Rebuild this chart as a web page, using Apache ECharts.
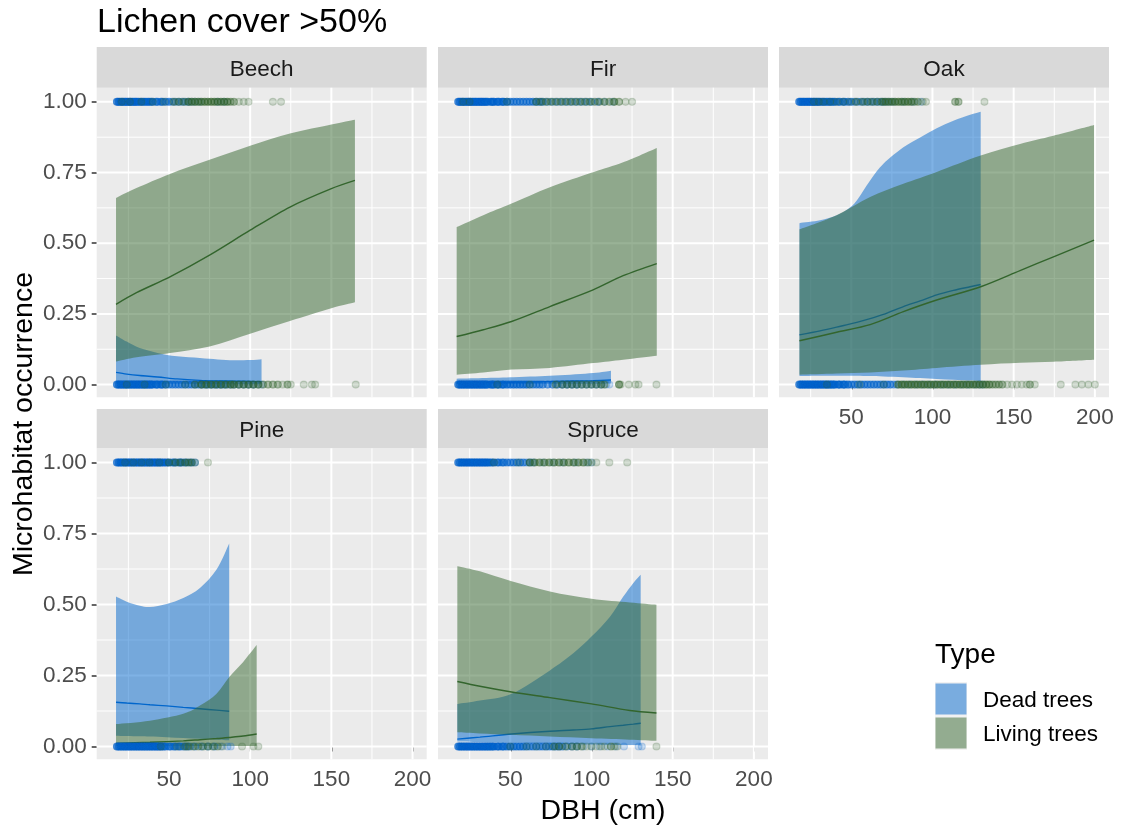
<!DOCTYPE html>
<html>
<head>
<meta charset="utf-8">
<script src="https://cdn.jsdelivr.net/npm/echarts@6/dist/echarts.min.js"></script>
<style>
  html, body { margin: 0; padding: 0; background: #ffffff; }
  #chart { width: 1121px; height: 832px; }
</style>
</head>
<body>
<div id="chart"></div>
<script>
// ---- facets, groups and axis ticks ----
const species = ['Beech', 'Fir', 'Oak', 'Pine', 'Spruce'];
const typeNames = ['Dead trees', 'Living trees'];
const xTicks = [50, 100, 150, 200];
const xMinor = [25, 75, 125, 175];
const yTicks = [0, 0.25, 0.5, 0.75, 1];
const yMinor = [0.125, 0.375, 0.625, 0.875];

// ---- fitted probability with confidence band (DBH, lower, fit, upper) ----
const beechDeadX   = [17.4, 24, 32, 43, 55, 69, 80, 90, 100, 107];
const beechDeadLo  = [0.004, 0.004, 0.004, 0.003, 0.003, 0.002, 0.002, 0.001, 0.001, 0.001];
const beechDeadFit = [0.043, 0.037, 0.032, 0.027, 0.020, 0.015, 0.013, 0.012, 0.011, 0.010];
const beechDeadHi  = [0.174, 0.152, 0.129, 0.112, 0.100, 0.094, 0.089, 0.086, 0.087, 0.090];

const beechLivingX   = [17.4, 30, 50.6, 75, 100, 124.5, 150, 164.5];
const beechLivingLo  = [0.082, 0.097, 0.112, 0.135, 0.180, 0.225, 0.270, 0.291];
const beechLivingFit = [0.284, 0.325, 0.381, 0.458, 0.546, 0.628, 0.693, 0.722];
const beechLivingHi  = [0.660, 0.695, 0.745, 0.795, 0.845, 0.888, 0.920, 0.937];

const firDeadX   = [17, 52, 77.5, 101, 112];
const firDeadLo  = [0.001, 0.002, 0.003, 0.003, 0.004];
const firDeadFit = [0.006, 0.008, 0.011, 0.014, 0.016];
const firDeadHi  = [0.021, 0.026, 0.032, 0.041, 0.049];

const firLivingX   = [17, 33.4, 50.8, 74.4, 101, 119.5, 140.2];
const firLivingLo  = [0.035, 0.043, 0.053, 0.059, 0.076, 0.088, 0.102];
const firLivingFit = [0.170, 0.194, 0.223, 0.276, 0.335, 0.385, 0.428];
const firLivingHi  = [0.557, 0.599, 0.640, 0.698, 0.751, 0.786, 0.837];

const oakDeadX   = [18.1, 30.8, 41, 48.2, 53.4, 61.6, 69.8, 82.1, 92.4, 102.6, 112.9, 123.2, 129.7];
const oakDeadLo  = [0.030, 0.031, 0.031, 0.031, 0.031, 0.030, 0.029, 0.026, 0.023, 0.020, 0.017, 0.014, 0.012];
const oakDeadFit = [0.176, 0.190, 0.203, 0.213, 0.220, 0.233, 0.248, 0.276, 0.296, 0.317, 0.333, 0.346, 0.354];
const oakDeadHi  = [0.571, 0.581, 0.599, 0.622, 0.651, 0.722, 0.781, 0.839, 0.874, 0.907, 0.933, 0.954, 0.965];

const oakLivingX   = [18.1, 41, 61.6, 82.1, 102.6, 129.7, 153.9, 174.5, 199.5];
const oakLivingLo  = [0.035, 0.039, 0.043, 0.050, 0.059, 0.070, 0.077, 0.081, 0.088];
const oakLivingFit = [0.155, 0.185, 0.212, 0.258, 0.299, 0.346, 0.403, 0.452, 0.511];
const oakLivingHi  = [0.549, 0.599, 0.663, 0.710, 0.752, 0.810, 0.851, 0.880, 0.918];

const pineDeadX   = [17.4, 24, 32.1, 38.3, 48.6, 58.8, 69.1, 79.3, 87.1];
const pineDeadLo  = [0.038, 0.037, 0.036, 0.035, 0.033, 0.030, 0.027, 0.024, 0.022];
const pineDeadFit = [0.156, 0.153, 0.150, 0.147, 0.143, 0.138, 0.133, 0.128, 0.124];
const pineDeadHi  = [0.528, 0.510, 0.496, 0.491, 0.502, 0.523, 0.558, 0.623, 0.715];

const pineLivingX   = [17.4, 38.3, 58.8, 69.1, 79.3, 87.1, 95.7, 104];
const pineLivingLo  = [0.002, 0.002, 0.002, 0.002, 0.002, 0.002, 0.002, 0.002];
const pineLivingFit = [0.011, 0.015, 0.020, 0.024, 0.028, 0.032, 0.037, 0.044];
const pineLivingHi  = [0.079, 0.091, 0.115, 0.144, 0.186, 0.245, 0.298, 0.357];

const spruceDeadX   = [17.4, 31.3, 50.8, 74.4, 88.8, 100, 111.4, 119.6, 125.8, 130.3];
const spruceDeadLo  = [0.018, 0.016, 0.013, 0.010, 0.008, 0.007, 0.006, 0.005, 0.005, 0.004];
const spruceDeadFit = [0.026, 0.033, 0.044, 0.054, 0.058, 0.062, 0.070, 0.075, 0.079, 0.082];
const spruceDeadHi  = [0.150, 0.162, 0.186, 0.268, 0.328, 0.387, 0.457, 0.528, 0.576, 0.605];

const spruceLivingX   = [17.4, 31.3, 50.8, 74.4, 100, 123.6, 140];
const spruceLivingLo  = [0.050, 0.046, 0.041, 0.035, 0.029, 0.024, 0.020];
const spruceLivingFit = [0.229, 0.212, 0.192, 0.172, 0.150, 0.127, 0.118];
const spruceLivingHi  = [0.635, 0.617, 0.582, 0.546, 0.520, 0.507, 0.499];

// ---- observed trees: [DBH, number of trees] without (At0) / with (At1) the microhabitat ----
const beechDeadAt0 = [[18,4],[19,4],[20,4],[21,4],[22,4],[23,4],[24,4],[25,4],[26,4],[27,4],[28,4],[29,4],[30,4],[31,4],[32,4],[33,4],[34,4],[35,4],[36,4],[37,4],[38,4],[39,4],[40,4],[42,4],[43,4],[45,4],[46,4],[48,4],[50,3],[52,3],[54,3],[56,3],[58,3],[60,3],[62,3],[64,3],[66,3],[68,3],[70,3],[72,3],[74,3],[76,3],[78,3],[80,3],[82,3],[84,3],[86,2],[88,2],[90,2],[93,2],[96,2],[99,2],[102,2],[105,1],[107,1]];
const beechDeadAt1 = [[18,4],[19,4],[20,4],[21,4],[22,4],[23,4],[24,4],[25,4],[26,4],[27,4],[28,4],[29,4],[30,4],[31,3],[32,3],[33,3],[34,3],[35,3],[36,3],[37,3],[38,3],[39,3],[40,3],[42,3],[43,3],[45,3],[46,3],[48,3],[50,3],[52,2],[54,2],[56,2],[58,2],[60,2],[62,2],[64,1],[66,1],[69,1],[80,1],[84,1]];
const beechLivingAt0 = [[24,1],[35,1],[48,1],[60,1],[66,2],[70,3],[73,3],[76,3],[79,3],[82,3],[85,3],[88,3],[90,3],[93,3],[96,3],[99,3],[102,3],[105,3],[108,2],[111,2],[114,2],[117,2],[120,1],[123,2],[125,1],[133,1],[138,1],[140,1],[165,1]];
const beechLivingAt1 = [[21,1],[26,1],[33,1],[40,1],[47,1],[53,2],[56,2],[59,2],[62,3],[64,3],[66,3],[68,3],[70,3],[72,3],[74,3],[76,3],[78,3],[80,3],[82,3],[84,3],[86,3],[88,2],[90,2],[93,1],[96,1],[99,1],[114,1],[119,1]];

const firDeadAt0 = [[18,4],[19,4],[20,4],[21,4],[22,4],[23,4],[24,4],[25,4],[26,4],[27,4],[28,4],[29,4],[30,4],[31,4],[32,4],[33,4],[34,4],[35,4],[36,4],[38,4],[39,4],[40,4],[42,4],[43,4],[45,4],[46,4],[48,4],[50,4],[52,4],[54,4],[56,4],[58,4],[60,4],[62,3],[64,3],[66,3],[68,3],[70,3],[73,3],[76,3],[79,3],[82,3],[85,3],[88,3],[91,3],[94,2],[97,2],[100,2],[103,2],[106,2],[109,1],[111,1]];
const firDeadAt1 = [[18,4],[19,4],[20,4],[21,4],[22,4],[23,4],[24,4],[25,4],[26,4],[27,4],[28,4],[29,4],[30,4],[31,4],[32,4],[33,4],[34,4],[35,4],[36,4],[38,4],[39,4],[40,4],[42,4],[43,4],[45,4],[46,4],[48,4],[50,3],[52,3],[54,3],[56,3],[58,3],[60,3],[62,3],[64,3],[66,3],[68,3],[70,3],[73,2],[76,2],[79,2],[82,2],[85,2],[88,2],[91,2],[94,2],[97,2],[100,2],[104,2],[108,1],[113,1]];
const firLivingAt0 = [[42,1],[62,1],[78,2],[82,2],[85,2],[88,2],[91,2],[94,2],[97,2],[100,2],[103,2],[106,2],[108,2],[117,3],[118,1],[123,1],[127,1],[129,1],[140,1]];
const firLivingAt1 = [[21,1],[25,1],[48,1],[66,2],[69,2],[72,2],[75,2],[78,2],[81,2],[84,2],[87,2],[90,2],[93,2],[96,2],[99,2],[102,2],[105,2],[108,2],[111,2],[114,3],[117,2],[121,1],[125,1]];

const oakDeadAt0 = [[18,4],[19,4],[20,4],[21,4],[22,4],[23,4],[24,4],[25,4],[26,4],[27,4],[28,4],[29,4],[30,4],[31,4],[32,4],[33,4],[34,4],[35,4],[36,4],[37,4],[38,4],[39,4],[40,4],[42,4],[43,4],[45,4],[46,4],[48,4],[50,3],[52,3],[54,3],[56,3],[58,3],[60,3],[62,3],[64,3],[66,3],[68,3],[70,3],[72,3],[74,3],[76,2],[78,2],[82,1],[86,1],[90,1],[94,1],[98,1],[102,1],[106,1],[110,1],[114,1],[118,1],[122,1],[126,1],[129,1],[131,1]];
const oakDeadAt1 = [[18,4],[19,4],[20,4],[21,4],[22,4],[23,4],[24,4],[25,4],[26,4],[27,4],[28,4],[29,4],[30,4],[31,3],[32,3],[33,3],[34,3],[35,3],[36,3],[37,3],[38,3],[39,3],[40,3],[42,3],[43,3],[45,3],[46,3],[48,3],[50,3],[52,2],[54,2],[56,2],[58,2],[60,2],[62,2],[64,2],[66,2],[68,2],[70,2],[72,1],[74,1],[76,1],[82,1],[88,1],[93,1]];
const oakLivingAt0 = [[35,1],[55,1],[70,1],[79,3],[81,3],[83,3],[85,3],[87,3],[89,3],[91,3],[93,3],[95,3],[97,3],[99,3],[101,3],[103,3],[105,3],[107,3],[109,3],[111,3],[113,3],[115,3],[117,3],[119,3],[121,3],[123,3],[125,3],[127,3],[129,3],[131,3],[133,3],[135,3],[137,2],[139,2],[141,2],[143,2],[146,1],[149,1],[152,1],[155,1],[158,1],[160,2],[163,1],[179,1],[188,1],[192,1],[196,1],[200,1]];
const oakLivingAt1 = [[27,1],[30,1],[33,1],[37,1],[41,1],[45,1],[49,1],[53,2],[57,2],[60,2],[63,2],[66,2],[69,3],[71,3],[73,3],[75,3],[77,3],[79,3],[81,3],[83,3],[85,3],[87,3],[89,2],[91,2],[94,1],[96,1],[114,2],[116,2],[132,1]];

const pineDeadAt0 = [[18,4],[19,4],[20,4],[21,4],[22,4],[23,4],[24,4],[25,4],[26,4],[27,4],[28,4],[29,4],[30,4],[31,4],[32,4],[33,4],[34,4],[35,4],[36,4],[37,4],[38,4],[39,4],[40,4],[41,4],[42,4],[43,4],[44,4],[45,4],[46,3],[47,3],[48,3],[50,3],[51,3],[53,3],[54,3],[56,3],[57,3],[59,3],[61,3],[63,2],[66,2],[70,2],[74,2],[78,2],[82,1],[86,1],[88,1]];
const pineDeadAt1 = [[18,4],[19,4],[20,4],[21,4],[22,4],[23,4],[24,4],[25,4],[26,4],[27,4],[28,4],[29,4],[30,4],[31,4],[32,4],[33,4],[34,4],[35,4],[36,4],[37,4],[38,4],[39,4],[40,4],[41,4],[42,4],[43,4],[44,4],[45,4],[46,3],[47,3],[48,3],[49,3],[50,3],[52,3],[53,3],[54,3],[56,3],[57,3],[58,3],[60,3],[61,2],[63,2],[64,2],[66,2]];
const pineLivingAt0 = [[45,1],[55,1],[60,2],[62,2],[65,2],[68,2],[71,2],[74,2],[77,2],[80,2],[83,1],[95,1],[102,1],[105,1]];
const pineLivingAt1 = [[23,1],[28,1],[33,1],[38,1],[44,1],[50,2],[54,2],[57,2],[60,2],[62,2],[64,2],[66,1],[74,1]];

const spruceDeadAt0 = [[18,4],[19,4],[20,4],[21,4],[22,4],[23,4],[24,4],[25,4],[26,4],[27,4],[28,4],[29,4],[30,4],[31,4],[32,4],[33,4],[34,4],[35,4],[36,4],[37,4],[38,4],[39,4],[40,4],[42,4],[43,4],[45,4],[46,4],[48,4],[50,4],[52,4],[54,4],[56,4],[58,4],[60,3],[62,3],[64,3],[66,3],[68,3],[70,3],[72,3],[74,3],[76,3],[78,3],[80,3],[82,3],[85,2],[88,2],[91,2],[95,1],[100,1],[105,1],[110,1],[115,1],[120,1],[129,1],[131,1]];
const spruceDeadAt1 = [[18,4],[19,4],[20,4],[21,4],[22,4],[23,4],[24,4],[25,4],[26,4],[27,4],[28,4],[29,4],[30,4],[31,4],[32,4],[33,4],[34,4],[35,4],[36,4],[37,3],[38,3],[39,3],[40,3],[42,3],[43,3],[45,3],[46,3],[48,3],[50,3],[52,3],[54,3],[56,3],[58,3],[60,2],[62,2],[64,2],[70,1],[76,1],[82,1],[90,1],[97,1],[100,1]];
const spruceLivingAt0 = [[50,1],[60,1],[66,1],[72,1],[77,2],[80,2],[84,2],[88,2],[91,2],[94,2],[97,1],[100,1],[103,1],[106,1],[108,1],[112,2],[114,1],[116,1],[140,1]];
const spruceLivingAt1 = [[40,1],[55,1],[62,3],[65,3],[68,3],[71,3],[74,3],[77,3],[80,3],[83,3],[86,3],[89,3],[92,3],[95,3],[98,2],[100,1],[103,1],[111,1],[122,1]];

// ---- assemble per facet ----
const curves = {
  Beech:  [{ x: beechDeadX,  lo: beechDeadLo,  fit: beechDeadFit,  hi: beechDeadHi },
           { x: beechLivingX, lo: beechLivingLo, fit: beechLivingFit, hi: beechLivingHi }],
  Fir:    [{ x: firDeadX,    lo: firDeadLo,    fit: firDeadFit,    hi: firDeadHi },
           { x: firLivingX,  lo: firLivingLo,  fit: firLivingFit,  hi: firLivingHi }],
  Oak:    [{ x: oakDeadX,    lo: oakDeadLo,    fit: oakDeadFit,    hi: oakDeadHi },
           { x: oakLivingX,  lo: oakLivingLo,  fit: oakLivingFit,  hi: oakLivingHi }],
  Pine:   [{ x: pineDeadX,   lo: pineDeadLo,   fit: pineDeadFit,   hi: pineDeadHi },
           { x: pineLivingX, lo: pineLivingLo, fit: pineLivingFit, hi: pineLivingHi }],
  Spruce: [{ x: spruceDeadX, lo: spruceDeadLo, fit: spruceDeadFit, hi: spruceDeadHi },
           { x: spruceLivingX, lo: spruceLivingLo, fit: spruceLivingFit, hi: spruceLivingHi }]
};
const trees = {
  Beech:  [[beechDeadAt0, beechDeadAt1], [beechLivingAt0, beechLivingAt1]],
  Fir:    [[firDeadAt0, firDeadAt1], [firLivingAt0, firLivingAt1]],
  Oak:    [[oakDeadAt0, oakDeadAt1], [oakLivingAt0, oakLivingAt1]],
  Pine:   [[pineDeadAt0, pineDeadAt1], [pineLivingAt0, pineLivingAt1]],
  Spruce: [[spruceDeadAt0, spruceDeadAt1], [spruceLivingAt0, spruceLivingAt1]]
};

// ---- style ----
const FONT = '"Liberation Sans", Arial, sans-serif';
const typeRGB = [[0, 102, 204], [51, 101, 45]];
const rgba = (c, a) => `rgba(${c[0]},${c[1]},${c[2]},${a})`;
const XMIN = 5.5, XMAX = 208.7;
const YMIN = -0.045, YMAX = 1.05;

// facet layout: column lefts, strip tops, panel tops and heights
const panelW = 330;
const colLeft = [96.7, 438, 779];
const stripTop = [47, 409];
const stripH = [40.7, 39.3];
const panelTop = [87.7, 448.3];
const panelH = [309.6, 311];
const facetCell = { Beech: [0, 0], Fir: [1, 0], Oak: [2, 0], Pine: [0, 1], Spruce: [1, 1] };
const showXLabels = { Beech: false, Fir: false, Oak: true, Pine: true, Spruce: true };
const showYLabels = { Beech: true, Fir: false, Oak: false, Pine: true, Spruce: false };

function gridRenderer(params, api) {
  if (params.dataIndex !== 0) return null;
  const kids = [];
  const seg = (p, q, w) => kids.push({
    type: 'line',
    shape: { x1: p[0], y1: p[1], x2: q[0], y2: q[1] },
    style: { stroke: '#FFFFFF', lineWidth: w }
  });
  xMinor.forEach(v => seg(api.coord([v, YMIN]), api.coord([v, YMAX]), 1));
  yMinor.forEach(v => seg(api.coord([XMIN, v]), api.coord([XMAX, v]), 1));
  xTicks.forEach(v => seg(api.coord([v, YMIN]), api.coord([v, YMAX]), 2));
  yTicks.forEach(v => seg(api.coord([XMIN, v]), api.coord([XMAX, v]), 2));
  return { type: 'group', children: kids };
}

// smooth curve through screen points (Catmull-Rom as cubic Beziers)
function splineSegments(pts, start) {
  let d = start + pts[0][0] + ' ' + pts[0][1];
  for (let i = 0; i < pts.length - 1; i++) {
    const p0 = pts[Math.max(i - 1, 0)], p1 = pts[i], p2 = pts[i + 1], p3 = pts[Math.min(i + 2, pts.length - 1)];
    const c1x = p1[0] + (p2[0] - p0[0]) / 6, c1y = p1[1] + (p2[1] - p0[1]) / 6;
    const c2x = p2[0] - (p3[0] - p1[0]) / 6, c2y = p2[1] - (p3[1] - p1[1]) / 6;
    d += ' C' + c1x + ' ' + c1y + ' ' + c2x + ' ' + c2y + ' ' + p2[0] + ' ' + p2[1];
  }
  return d;
}

function ribbonRenderer(c, fill) {
  return function (params, api) {
    if (params.dataIndex !== 0) return null;
    const upper = c.x.map((x, i) => api.coord([x, c.hi[i]]));
    const lower = c.x.map((x, i) => api.coord([x, c.lo[i]])).reverse();
    const d = splineSegments(upper, 'M') + ' ' + splineSegments(lower, 'L') + ' Z';
    return { type: 'path', shape: { pathData: d }, style: { fill: fill, stroke: null } };
  };
}

const grids = [], xAxes = [], yAxes = [], series = [], graphics = [];

species.forEach((sp, gi) => {
  const [col, row] = facetCell[sp];
  grids.push({
    left: colLeft[col], top: panelTop[row], width: panelW, height: panelH[row],
    show: true, backgroundColor: '#EBEBEB', borderWidth: 0
  });
  xAxes.push({
    type: 'value', gridIndex: gi, min: XMIN, max: XMAX,
    axisLine: { show: false },
    splitLine: { show: false },
    axisTick: { show: showXLabels[sp], customValues: xTicks, length: 5, lineStyle: { color: '#333333', width: 1.5 } },
    axisLabel: { show: showXLabels[sp], customValues: xTicks, color: '#4D4D4D', fontSize: 22.5, fontFamily: FONT, margin: 9 }
  });
  yAxes.push({
    type: 'value', gridIndex: gi, min: YMIN, max: YMAX,
    axisLine: { show: false },
    splitLine: { show: false },
    axisTick: { show: showYLabels[sp], customValues: yTicks, length: 5, lineStyle: { color: '#333333', width: 1.5 } },
    axisLabel: {
      show: showYLabels[sp], customValues: yTicks, color: '#4D4D4D', fontSize: 22.5, fontFamily: FONT, margin: 10,
      formatter: v => Number(v).toFixed(2)
    }
  });

  // panel grid lines
  series.push({
    type: 'custom', xAxisIndex: gi, yAxisIndex: gi, z: 1, silent: true,
    data: [[XMIN, YMIN]], renderItem: gridRenderer
  });

  // band then fitted line for each tree type
  curves[sp].forEach((c, ti) => {
    series.push({
      type: 'custom', name: typeNames[ti], xAxisIndex: gi, yAxisIndex: gi, z: 2 + ti * 2, silent: true,
      data: c.x.map((x, i) => [x, c.lo[i], c.hi[i]]),
      encode: { x: 0, y: [1, 2] },
      renderItem: ribbonRenderer(c, rgba(typeRGB[ti], 0.5))
    });
    series.push({
      type: 'line', name: typeNames[ti], xAxisIndex: gi, yAxisIndex: gi, z: 3 + ti * 2, silent: true,
      data: c.x.map((x, i) => [x, c.fit[i]]),
      smooth: 0.3, showSymbol: false,
      lineStyle: { color: rgba(typeRGB[ti], 1), width: 1.4 }
    });
  });

  // observed trees at 0 and 1 (one translucent circle per tree)
  trees[sp].forEach((occ, ti) => {
    const pts = [];
    [0, 1].forEach(yv => occ[yv].forEach(([d, n]) => {
      for (let k = 0; k < n; k++) pts.push([d, yv]);
    }));
    series.push({
      type: 'scatter', name: typeNames[ti], xAxisIndex: gi, yAxisIndex: gi, z: 7 + ti, silent: true,
      data: pts, symbolSize: 7,
      itemStyle: { color: rgba(typeRGB[ti], 0.25), borderColor: rgba(typeRGB[ti], 0.25), borderWidth: 1.2 }
    });
  });

  // facet strip
  graphics.push({
    type: 'rect', silent: true,
    shape: { x: colLeft[col], y: stripTop[row], width: panelW, height: stripH[row] },
    style: { fill: '#D9D9D9' }
  });
  graphics.push({
    type: 'text', silent: true,
    x: colLeft[col] + panelW / 2, y: stripTop[row] + stripH[row] / 2 + 2,
    style: { text: sp, fill: '#1A1A1A', fontSize: 22.5, fontFamily: FONT, align: 'center', verticalAlign: 'middle' }
  });
});

// titles
graphics.push({
  type: 'text', silent: true, x: 97, y: 23,
  style: { text: 'Lichen cover >50%', fill: '#000000', fontSize: 34, fontFamily: FONT, align: 'left', verticalAlign: 'middle' }
});
graphics.push({
  type: 'text', silent: true, x: 603, y: 811,
  style: { text: 'DBH (cm)', fill: '#000000', fontSize: 28.5, fontFamily: FONT, align: 'center', verticalAlign: 'middle' }
});
graphics.push({
  type: 'text', silent: true, x: 24, y: 424, rotation: Math.PI / 2,
  style: { text: 'Microhabitat occurrence', fill: '#000000', fontSize: 28.5, fontFamily: FONT, align: 'center', verticalAlign: 'middle' }
});

// legend
graphics.push({
  type: 'text', silent: true, x: 935, y: 655,
  style: { text: 'Type', fill: '#000000', fontSize: 28, fontFamily: FONT, align: 'left', verticalAlign: 'middle' }
});
typeNames.forEach((name, ti) => {
  const top = 682 + ti * 34;
  graphics.push({
    type: 'rect', silent: true,
    shape: { x: 935, y: top, width: 32, height: 34 },
    style: { fill: '#F2F2F2' }
  });
  graphics.push({
    type: 'rect', silent: true,
    shape: { x: 935.5, y: top + 1.5, width: 31, height: 31 },
    style: { fill: rgba(typeRGB[ti], 0.5) }
  });
  graphics.push({
    type: 'text', silent: true, x: 983, y: top + 18.5,
    style: { text: name, fill: '#000000', fontSize: 22.5, fontFamily: FONT, align: 'left', verticalAlign: 'middle' }
  });
});

const chart = echarts.init(document.getElementById('chart'), null, { renderer: 'canvas' });
chart.setOption({
  animation: false,
  backgroundColor: '#FFFFFF',
  grid: grids,
  xAxis: xAxes,
  yAxis: yAxes,
  series: series,
  graphic: { elements: graphics }
});
</script>
</body>
</html>
